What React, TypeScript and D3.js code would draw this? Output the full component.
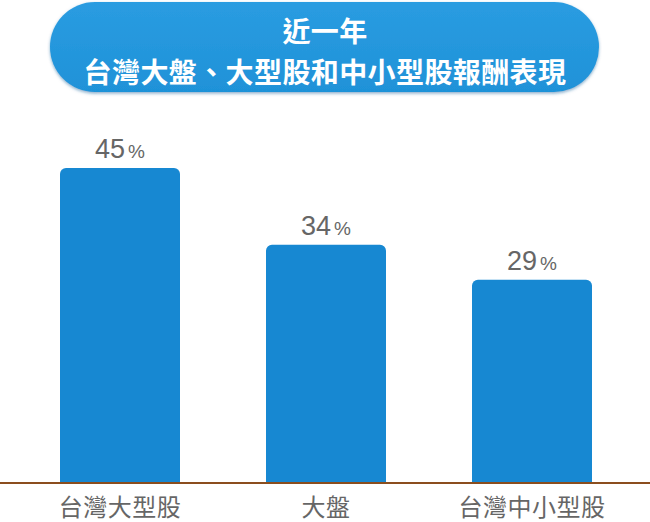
import React from "react";
import * as d3 from "d3";

const categories = ["台灣大型股", "大盤", "台灣中小型股"];
const returns = [45, 34, 29];
const titleLines = ["近一年", "台灣大盤、大型股和中小型股報酬表現"];

const W = 650;
const H = 522;

export default function App() {
  const x = d3.scaleBand().domain(categories).range([60, 592]).paddingInner(0.4175).paddingOuter(0);
  const y = d3.scaleLinear().domain([0, 45]).range([482, 168]);
  const r = 6;
  const barPath = (x0: number, y0: number, w: number, y1: number) => {
    const p = d3.path();
    p.moveTo(x0, y1);
    p.lineTo(x0, y0 + r);
    p.arcTo(x0, y0, x0 + r, y0, r);
    p.lineTo(x0 + w - r, y0);
    p.arcTo(x0 + w, y0, x0 + w, y0 + r, r);
    p.lineTo(x0 + w, y1);
    p.closePath();
    return p.toString();
  };
  return (
    <svg width={W} height={H} style={{ position: "absolute", left: 0, top: 0, background: "#fff" }}>
      <defs>
        <linearGradient id="pill" x1="0" y1="0" x2="0" y2="1">
          <stop offset="0" stopColor="#2A9CE1" />
          <stop offset="1" stopColor="#1F92D8" />
        </linearGradient>
        <filter id="sh" x="-10%" y="-20%" width="120%" height="150%">
          <feDropShadow dx="0" dy="1.5" stdDeviation="1.5" floodColor="#0b5a96" floodOpacity="0.5" />
        </filter>
      </defs>
      <rect x={50} y={2} width={549} height={90} rx={45} ry={45} fill="url(#pill)" filter="url(#sh)" />
      {titleLines.map((t, i) => (
        <text
          key={i}
          x={325}
          y={i === 0 ? 42 : 83}
          textAnchor="middle"
          fill="#fff"
          fontWeight="bold"
          fontSize={28}
          letterSpacing={0.4}
          fontFamily="'Noto Sans CJK TC', 'Noto Sans CJK SC', sans-serif"
        >
          {t}
        </text>
      ))}
      {categories.map((c, i) => {
        const bx = x(c)!;
        const bw = x.bandwidth();
        const top = y(returns[i]);
        return (
          <g key={c}>
            <path d={barPath(bx, top, bw, y(0))} fill="#1788D2" />
            <text
              x={bx + bw / 2}
              y={top - 10}
              textAnchor="middle"
              fill="#666"
              fontFamily="'Liberation Sans', Arial, sans-serif"
            >
              <tspan fontSize={27}>{returns[i]}</tspan>
              <tspan fontSize={19} dx={3}>%</tspan>
            </text>
            <text
              x={bx + bw / 2}
              y={516}
              textAnchor="middle"
              fill="#666"
              fontSize={24}
              letterSpacing={0.5}
              fontFamily="'Noto Sans CJK TC', 'Noto Sans CJK SC', sans-serif"
            >
              {c}
            </text>
          </g>
        );
      })}
      <line x1={0} x2={W} y1={y(0) + 1} y2={y(0) + 1} stroke="#8B4E1E" strokeWidth={2} />
    </svg>
  );
}
